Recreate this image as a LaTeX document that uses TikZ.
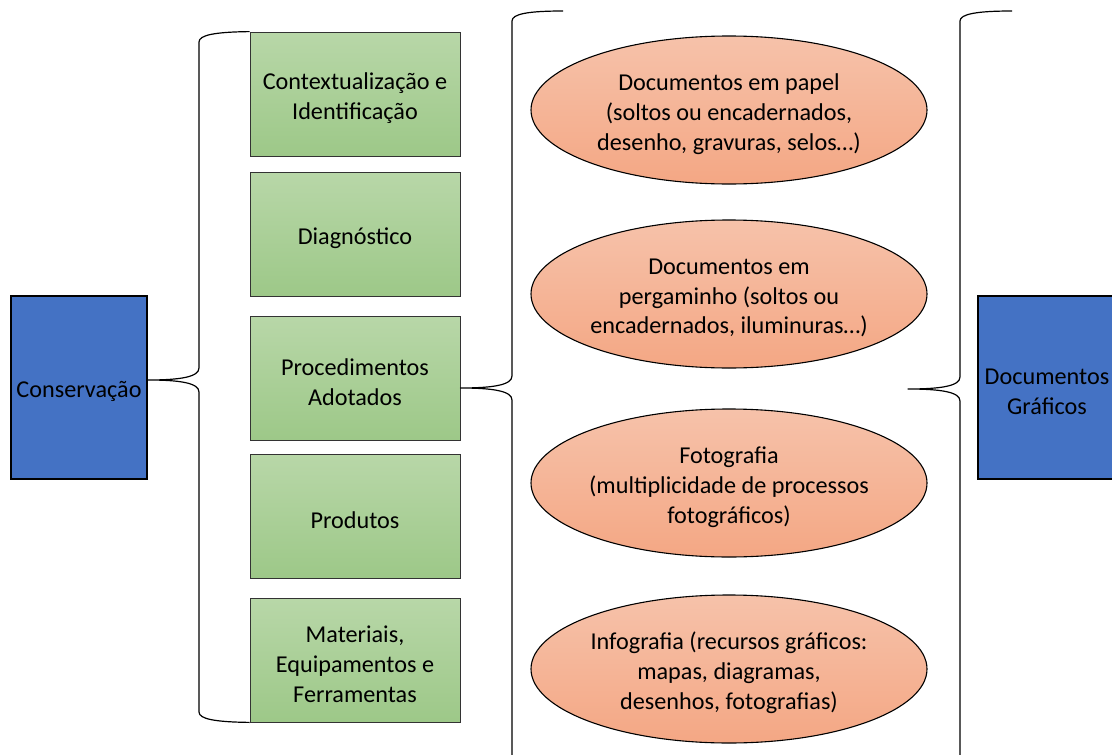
\documentclass[tikz,border=0pt]{standalone}
\usepackage{fontspec}
\setmainfont{Carlito}
\usetikzlibrary{shapes.geometric}
\definecolor{boxblue}{RGB}{68,114,196}
\definecolor{greentop}{RGB}{184,215,168}
\definecolor{greenbot}{RGB}{157,200,136}
\definecolor{salmontop}{RGB}{246,194,170}
\definecolor{salmonbot}{RGB}{244,167,132}
\tikzset{
  bluebox/.style={draw=black, line width=2pt, fill=boxblue, inner sep=0pt},
  greenbox/.style={draw=black!80, line width=0.8pt, top color=greentop, bottom color=greenbot, minimum width=210pt, minimum height=124pt, inner sep=0pt},
  docell/.style={ellipse, draw=black, line width=1.1pt, top color=salmontop, bottom color=salmonbot, minimum width=396pt, minimum height=148pt, inner sep=0pt},
  txt/.style={align=center, inner sep=0pt, yshift=-4pt},
  bracepath/.style={draw=black, line width=1.2pt, line join=round}
}
\begin{document}
\begin{tikzpicture}[x=1pt, y=-1pt, font=\fontsize{24.2}{29.8}\selectfont]
\clip (0,0) rectangle (1112,755);
\fill[white] (0,0) rectangle (1112,755);
% left box
\node[bluebox, minimum width=136pt, minimum height=183pt] (cons) at (79,387.5) {};
\node[txt] (tcons) at (cons.center) {Conservação};
% right box
\node[bluebox, minimum width=138pt, minimum height=183pt] (docs) at (1047,387.5) {};
\node[txt] (tdocs) at (docs.center) {Documentos\\Gráficos};
% green boxes
\node[greenbox] (g1) at (355,94) {};
\node[greenbox] (g2) at (355,234) {};
\node[greenbox] (g3) at (355,378) {};
\node[greenbox] (g4) at (355,516) {};
\node[greenbox] (g5) at (355,660) {};
\node[txt] (tg1) at (g1.center) {Contextualização e\\Identificação};
\node[txt] (tg2) at (g2.center) {Diagnóstico};
\node[txt] (tg3) at (g3.center) {Procedimentos\\Adotados};
\node[txt] (tg4) at (g4.center) {Produtos};
\node[txt] (tg5) at (g5.center) {Materiais,\\Equipamentos e\\Ferramentas};
% ellipses
\node[docell] (e1) at (729,110) {};
\node[docell] (e2) at (729,294) {};
\node[docell] (e3) at (729,483) {};
\node[docell] (e4) at (729,669) {};
\node[txt] (te1) at (e1.center) {Documentos em papel\\(soltos ou encadernados,\\desenho, gravuras, selos…)};
\node[txt] (te2) at (e2.center) {Documentos em\\pergaminho (soltos ou\\encadernados, iluminuras…)};
\node[txt] (te3) at (e3.center) {Fotografia\\(multiplicidade de processos\\fotográficos)};
\node[txt] (te4) at (e4.center) {Infografia (recursos gráficos:\\mapas, diagramas,\\desenhos, fotografias)};
% brace tips
\coordinate (tipL) at (cons.east |- 0,380);
\coordinate (tipM) at (g3.east |- 0,388);
\coordinate (tipR) at (908,389);
% left brace
\draw[bracepath] (g1.north west) .. controls (215,32) and (199,35) .. (199,42)
  -- (199,368) .. controls (199,377) and (180,380) .. (tipL)
  .. controls (180,380) and (199,383) .. (199,392)
  -- (199,712) .. controls (199,719) and (215,722) .. (g5.south west);
% middle brace
\draw[bracepath] (563,11) .. controls (528,11) and (512,14) .. (512,21)
  -- (512,376) .. controls (512,385) and (493,388) .. (tipM)
  .. controls (493,388) and (512,391) .. (512,400)
  -- (512,755) .. controls (512,762) and (528,765) .. (563,765);
% right brace
\draw[bracepath] (1012,11) .. controls (977,11) and (960,14) .. (960,21)
  -- (960,377) .. controls (960,386) and (941,389) .. (tipR)
  .. controls (941,389) and (960,392) .. (960,401)
  -- (960,757) .. controls (960,764) and (977,767) .. (1012,767);
\end{tikzpicture}
\end{document}
